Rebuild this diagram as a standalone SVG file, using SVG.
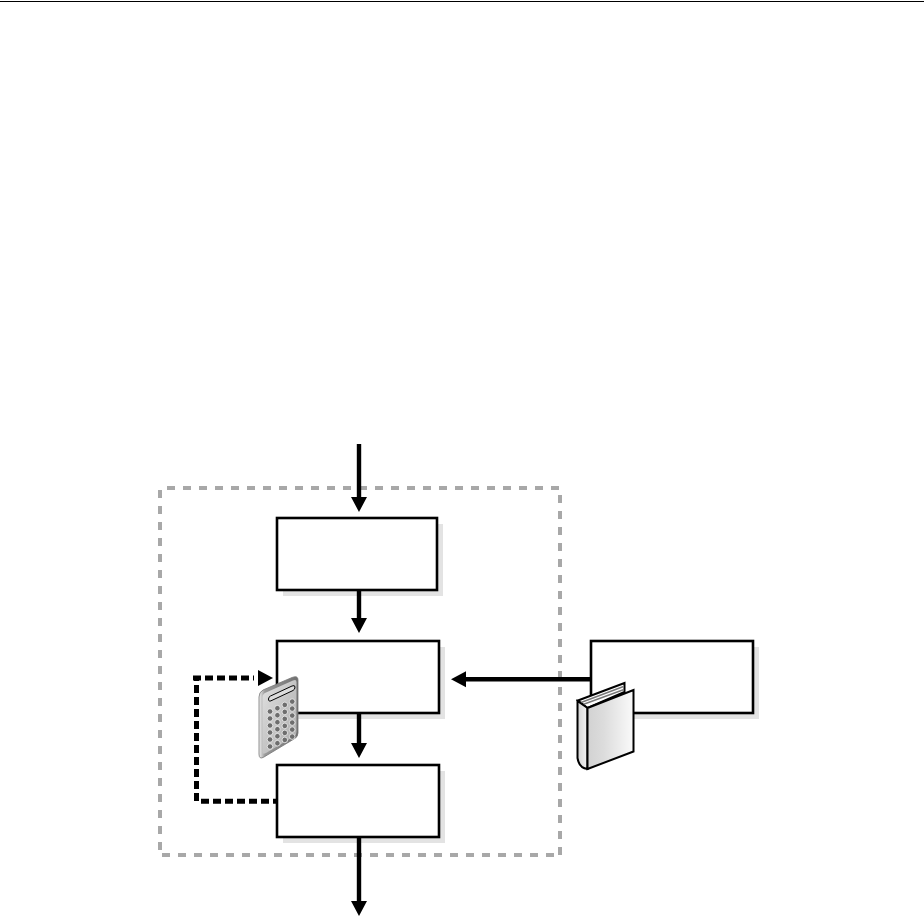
<svg xmlns="http://www.w3.org/2000/svg" width="924" height="917" viewBox="0 0 924 917">
<style>
.shadow{fill:#e3e3e3;stroke:none}
.box{fill:#fff;stroke:#000;stroke-width:2.6}
.frame{fill:none;stroke:#a8a8a8;stroke-width:4;stroke-dasharray:8 8}
.flow{fill:none;stroke:#000;stroke-width:4.4}
.loop{fill:none;stroke:#000;stroke-width:5;stroke-dasharray:8 4}
.key{fill:#6e6e6e;stroke:#f4f4f4;stroke-width:.8}
</style>
<defs>
<marker id="head" markerUnits="userSpaceOnUse" markerWidth="15" markerHeight="16" refX="0" refY="8" orient="auto" overflow="visible"><path d="M0 0L15 8L0 16Z" fill="#000"/></marker>
<linearGradient id="calcFace" x1="0" y1="0" x2="1" y2="1"><stop offset="0" stop-color="#e2e2e2"/><stop offset="1" stop-color="#a8a8a8"/></linearGradient>
<linearGradient id="calcEdge" x1="0" y1="0" x2="1" y2="0"><stop offset="0" stop-color="#f0f0f0"/><stop offset=".15" stop-color="#9a9a9a"/><stop offset="1" stop-color="#707070"/></linearGradient>
<linearGradient id="bookFront" x1="0" y1="0" x2="1" y2="0"><stop offset="0" stop-color="#d2d2d2"/><stop offset=".35" stop-color="#dcdcdc"/><stop offset="1" stop-color="#fafafa"/></linearGradient>
<linearGradient id="bookSpine" x1="0" y1="0" x2="1" y2="0"><stop offset="0" stop-color="#d4d4d4"/><stop offset="1" stop-color="#f2f2f2"/></linearGradient>
</defs>
<path id="top-rule" d="M0 1.500H924" stroke="#000" stroke-width="1" fill="none"/>
<path id="boundary" class="frame" d="M167 488H560M560 495V855M554 855H160M160 850V488"/>
<g id="node-1"><rect class="shadow" x="283" y="524" width="160" height="72"/><rect class="box" x="277" y="518" width="160" height="72"/></g>
<g id="node-2"><rect class="shadow" x="283" y="647" width="162" height="72"/><rect class="box" x="277" y="641" width="162" height="72"/></g>
<g id="node-3"><rect class="shadow" x="283" y="771" width="162" height="72"/><rect class="box" x="277" y="765" width="162" height="72"/></g>
<g id="node-4"><rect class="shadow" x="597" y="647" width="162" height="72"/><rect class="box" x="591" y="641" width="162" height="72"/></g>
<g id="connectors">
<path class="flow" d="M359 444V497" marker-end="url(#head)"/>
<path class="flow" d="M359 590V618" marker-end="url(#head)"/>
<path class="flow" d="M359 713V743" marker-end="url(#head)"/>
<path class="flow" d="M359 837V901" marker-end="url(#head)"/>
<path class="flow" d="M591 679.300H466" marker-end="url(#head)"/>
<path class="loop" d="M269 801.300H197M277 801.300H273M196.500 801V676M193 678H254"/>
<path d="M258 670L273 678L258 686Z" fill="#000"/>
</g>
<g id="calculator">
<path d="M259 697Q259 692 263 690L292 677.500Q298 675 298 680V733Q298 737 294 739L264 757Q259 760 259 754Z" fill="url(#calcEdge)" stroke="#777" stroke-width=".8"/>
<path d="M262.500 697Q262.500 694 266 692.500L293 680.500Q296.500 679 296.500 682V732Q296.500 735 294 736.500L266 753Q262.500 755 262.500 752Z" fill="url(#calcFace)"/>
<path d="M268.500 699Q268.500 697 270.500 696L292 686Q295 684.800 295 687Q295 689.500 293 690.500L271 700.800Q268.500 702 268.500 699Z" fill="#dcdcdc" stroke="#000" stroke-width="1"/>
<g class="key">
<circle cx="270" cy="711.500" r="2.800"/><circle cx="277.400" cy="708.200" r="2.800"/><circle cx="284.800" cy="704.900" r="2.800"/><circle cx="292.200" cy="701.600" r="2.800"/>
<circle cx="270" cy="718.500" r="2.800"/><circle cx="277.400" cy="715.200" r="2.800"/><circle cx="284.800" cy="711.900" r="2.800"/><circle cx="292.200" cy="708.600" r="2.800"/>
<circle cx="270" cy="725.500" r="2.800"/><circle cx="277.400" cy="722.200" r="2.800"/><circle cx="284.800" cy="718.900" r="2.800"/><circle cx="292.200" cy="715.600" r="2.800"/>
<circle cx="270" cy="732.500" r="2.800"/><circle cx="277.400" cy="729.200" r="2.800"/><circle cx="284.800" cy="725.900" r="2.800"/><circle cx="292.200" cy="722.600" r="2.800"/>
<circle cx="270" cy="739.500" r="2.800"/><circle cx="277.400" cy="736.200" r="2.800"/><circle cx="284.800" cy="732.900" r="2.800"/><circle cx="292.200" cy="729.600" r="2.800"/>
<circle cx="270" cy="746.500" r="2.800"/><circle cx="277.400" cy="743.200" r="2.800"/><circle cx="284.800" cy="739.900" r="2.800"/><circle cx="292.200" cy="736.600" r="2.800"/>
</g>
</g>
<g id="book">
<path d="M578 700.500L624.500 683V692L587.500 708Z" fill="#fff" stroke="#000" stroke-width="2"/>
<path d="M581 702.500L623.500 686.500M583 704.500L624 689.500" stroke="#777" stroke-width="1.400" fill="none"/>
<path d="M577.500 701L587.500 708V769Q579 768 577.500 758Z" fill="url(#bookSpine)" stroke="#000" stroke-width="2"/>
<path d="M587.500 708L633.500 690V751.500L587.500 769Z" fill="url(#bookFront)" stroke="#000" stroke-width="2"/>
</g>
</svg>
